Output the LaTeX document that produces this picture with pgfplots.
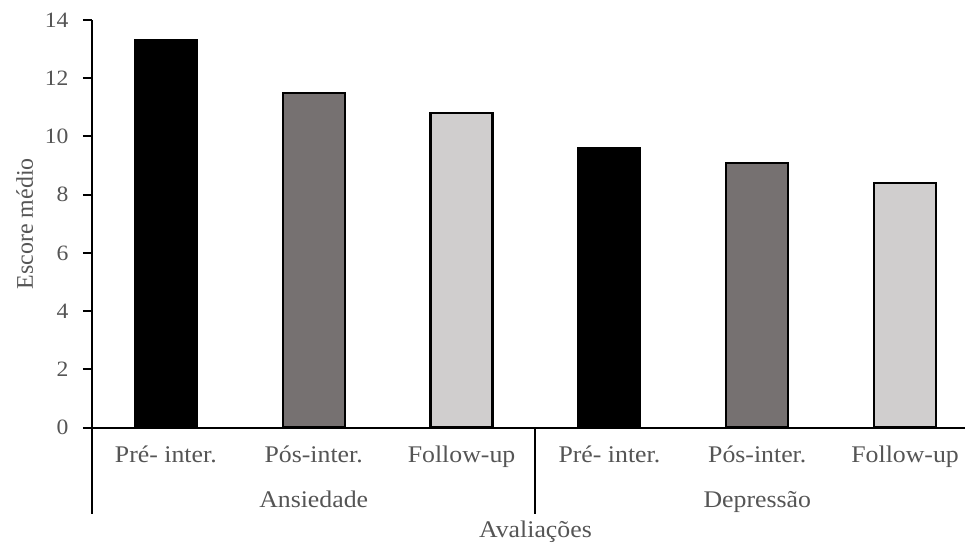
\documentclass[border=0pt]{standalone}
\usepackage{fontspec}
\setmainfont{Liberation Serif}[FakeStretch=1.08]
\newfontfamily\vlabelfont{Liberation Serif}
\usepackage{pgfplots}
\pgfplotsset{compat=1.18}
\definecolor{txt}{HTML}{555555}
\definecolor{midgray}{HTML}{767171}
\definecolor{lgray}{HTML}{D0CECE}
\newcommand{\lblfont}{\fontsize{24}{28}\selectfont}
\newcommand{\numfont}{\fontsize{22}{26}\selectfont}
\begin{document}
\begin{tikzpicture}[x=1bp,y=1bp]
\path (0,0) rectangle (966,545);
\begin{axis}[
  at={(92bp,117bp)}, anchor=south west,
  scale only axis, width=874bp, height=408bp,
  xmin=-0.5, xmax=5.405, ymin=0, ymax=14,
  axis x line*=bottom, axis y line*=left,
  axis line style={-, black, line width=2bp},
  clip=false,
  ytick={0,2,...,14},
  xtick={0,...,5},
  xticklabels={Pré- inter., Pós-inter., Follow-up, Pré- inter., Pós-inter., Follow-up},
  tick align=outside, major tick length=9bp,
  y tick style={black, line width=2bp},
  x tick style={draw=none},
  /pgf/number format/assume math mode=true,
  tick label style={text=txt},
  yticklabel style={font=\numfont, xshift=-11bp},
  xticklabel style={font=\lblfont, anchor=base, yshift=-26bp},
  xlabel={Avaliações},
  xlabel style={font=\lblfont, text=txt, at={(axis description cs:0.508,0)}, anchor=base, yshift=-110bp},
  ylabel={Escore médio},
  ylabel style={font=\vlabelfont\lblfont, text=txt, at={(axis description cs:-0.0675,0.5)}, anchor=base},
]
% Pré-intervenção
\addplot[ybar, bar width=62bp, bar shift=0pt, fill=black, draw=black, line width=2.2bp]
  coordinates {(0,13.3) (3,9.6)};
% Pós-intervenção
\addplot[ybar, bar width=62bp, bar shift=0pt, fill=midgray, draw=black, line width=2.2bp]
  coordinates {(1,11.5) (4,9.1)};
% Follow-up
\addplot[ybar, bar width=62bp, bar shift=0pt, fill=lgray, draw=black, line width=2.2bp]
  coordinates {(2,10.8) (5,8.4)};
% group separators of the category axis
\draw[black, line width=2bp] (axis cs:-0.5,0) -- ([yshift=-87bp]axis cs:-0.5,0);
\draw[black, line width=2bp] (axis cs:2.5,0) -- ([yshift=-87bp]axis cs:2.5,0);
\node[font=\lblfont, text=txt, anchor=base] at ([yshift=-80bp]axis cs:1,0) {Ansiedade};
\node[font=\lblfont, text=txt, anchor=base] at ([yshift=-80bp]axis cs:4,0) {Depressão};
\end{axis}
\end{tikzpicture}
\end{document}
